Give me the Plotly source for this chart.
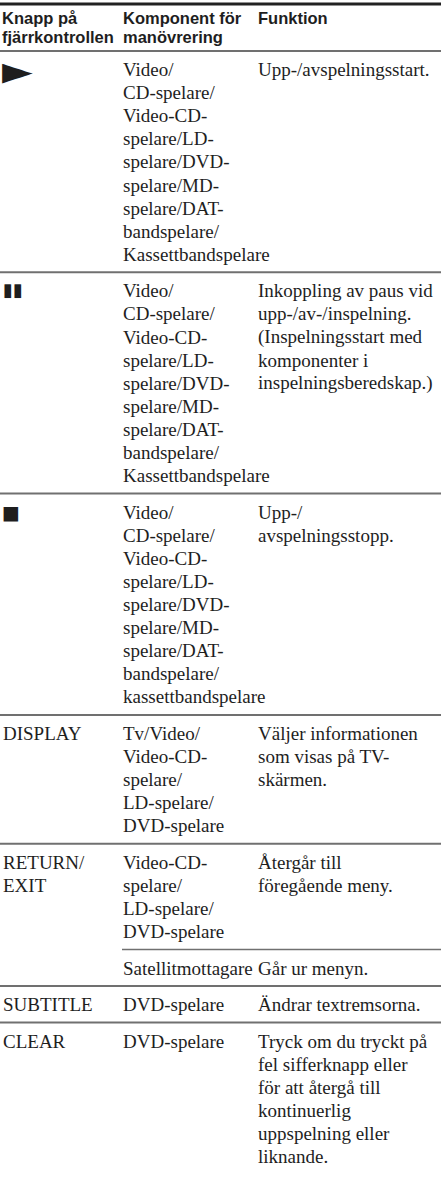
import plotly.graph_objects as go

# ---- table content ----
header_col1 = ["Knapp på", "fjärrkontrollen"]
header_col2 = ["Komponent för", "manövrering"]
header_col3 = ["Funktion"]

row_buttons = [
    ["►"],
    ["▮▮"],
    ["■"],
    ["DISPLAY"],
    ["RETURN/", "EXIT"],
    [],
    ["SUBTITLE"],
    ["CLEAR"],
]
row_components = [
    ["Video/", "CD-spelare/", "Video-CD-", "spelare/LD-", "spelare/DVD-", "spelare/MD-",
     "spelare/DAT-", "bandspelare/", "Kassettbandspelare"],
    ["Video/", "CD-spelare/", "Video-CD-", "spelare/LD-", "spelare/DVD-", "spelare/MD-",
     "spelare/DAT-", "bandspelare/", "Kassettbandspelare"],
    ["Video/", "CD-spelare/", "Video-CD-", "spelare/LD-", "spelare/DVD-", "spelare/MD-",
     "spelare/DAT-", "bandspelare/", "kassettbandspelare"],
    ["Tv/Video/", "Video-CD-", "spelare/", "LD-spelare/", "DVD-spelare"],
    ["Video-CD-", "spelare/", "LD-spelare/", "DVD-spelare"],
    ["Satellitmottagare"],
    ["DVD-spelare"],
    ["DVD-spelare"],
]
row_functions = [
    ["Upp-/avspelningsstart."],
    ["Inkoppling av paus vid", "upp-/av-/inspelning.", "(Inspelningsstart med",
     "komponenter i", "inspelningsberedskap.)"],
    ["Upp-/", "avspelningsstopp."],
    ["Väljer informationen", "som visas på TV-", "skärmen."],
    ["Återgår till", "föregående meny."],
    ["Går ur menyn."],
    ["Ändrar textremsorna."],
    ["Tryck om du tryckt på", "fel sifferknapp eller", "för att återgå till",
     "kontinuerlig", "uppspelning eller", "liknande."],
]
row_separator = ["full", "full", "full", "full", "full", "sub", "full", "full"]

# ---- layout constants ----
W, H = 441, 1178
X1, X2, X3 = 2, 122, 257
LH = 23.1
PAD_TOP = 18.5
PAD_BOT = 18.0
BODY_FONT = dict(family="Liberation Serif, Times New Roman, serif", size=19, color="#1e1e1e")
HEAD_FONT = dict(family="Liberation Sans, Arial, sans-serif", size=16.5, color="#1e1e1e")
SYM_FAMILY = "DejaVu Sans, sans-serif"

annotations = []
shapes = []

def txt(x, y, s, font):
    annotations.append(dict(x=x, y=y, xref="x", yref="y", text=s, showarrow=False,
                            xanchor="left", yanchor="middle", font=font, borderpad=0))

def hline(y, x0, width, color):
    shapes.append(dict(type="line", xref="x", yref="y", x0=x0, x1=W, y0=y, y1=y,
                       line=dict(color=color, width=width)))

hline(4, 0, 3, "#222222")
hy = [18, 37]
for i, s in enumerate(header_col1):
    txt(X1 - 1, hy[i], "<b>%s</b>" % s, HEAD_FONT)
for i, s in enumerate(header_col2):
    txt(X2, hy[i], "<b>%s</b>" % s, HEAD_FONT)
for i, s in enumerate(header_col3):
    txt(X3, hy[i], "<b>%s</b>" % s, HEAD_FONT)

y = 51
for k in range(len(row_components)):
    if row_separator[k] == "full":
        hline(y, 0, 2, "#707070")
    else:
        hline(y, X2, 1.5, "#707070")
    first = y + PAD_TOP
    n = max(len(row_buttons[k]), len(row_components[k]), len(row_functions[k]))
    for i, s in enumerate(row_buttons[k]):
        if s == "►":
            txt(X1 - 1, first + i * LH, s, dict(family=SYM_FAMILY, size=40, color="#1e1e1e"))
        elif s == "▮▮":
            txt(X1, first + i * LH - 1, s, dict(family=SYM_FAMILY, size=18, color="#1e1e1e"))
        elif s == "■":
            txt(X1 - 1, first + i * LH, s, dict(family=SYM_FAMILY, size=19, color="#1e1e1e"))
        else:
            txt(X1, first + i * LH, s, BODY_FONT)
    for i, s in enumerate(row_components[k]):
        txt(X2, first + i * LH, s, BODY_FONT)
    for i, s in enumerate(row_functions[k]):
        txt(X3, first + i * LH, s, BODY_FONT)
    y = first + (n - 1) * LH + PAD_BOT

fig = go.Figure()
fig.update_layout(
    width=W, height=H,
    margin=dict(l=0, r=0, t=0, b=0, autoexpand=False),
    paper_bgcolor="white", plot_bgcolor="white",
    xaxis=dict(range=[0, W], visible=False, fixedrange=True),
    yaxis=dict(range=[H, 0], visible=False, fixedrange=True),
    annotations=annotations, shapes=shapes, showlegend=False,
)
fig.write_html("out.html", config={"displayModeBar": False},
               post_script="document.body.style.margin='0';document.body.style.overflow='hidden';")
